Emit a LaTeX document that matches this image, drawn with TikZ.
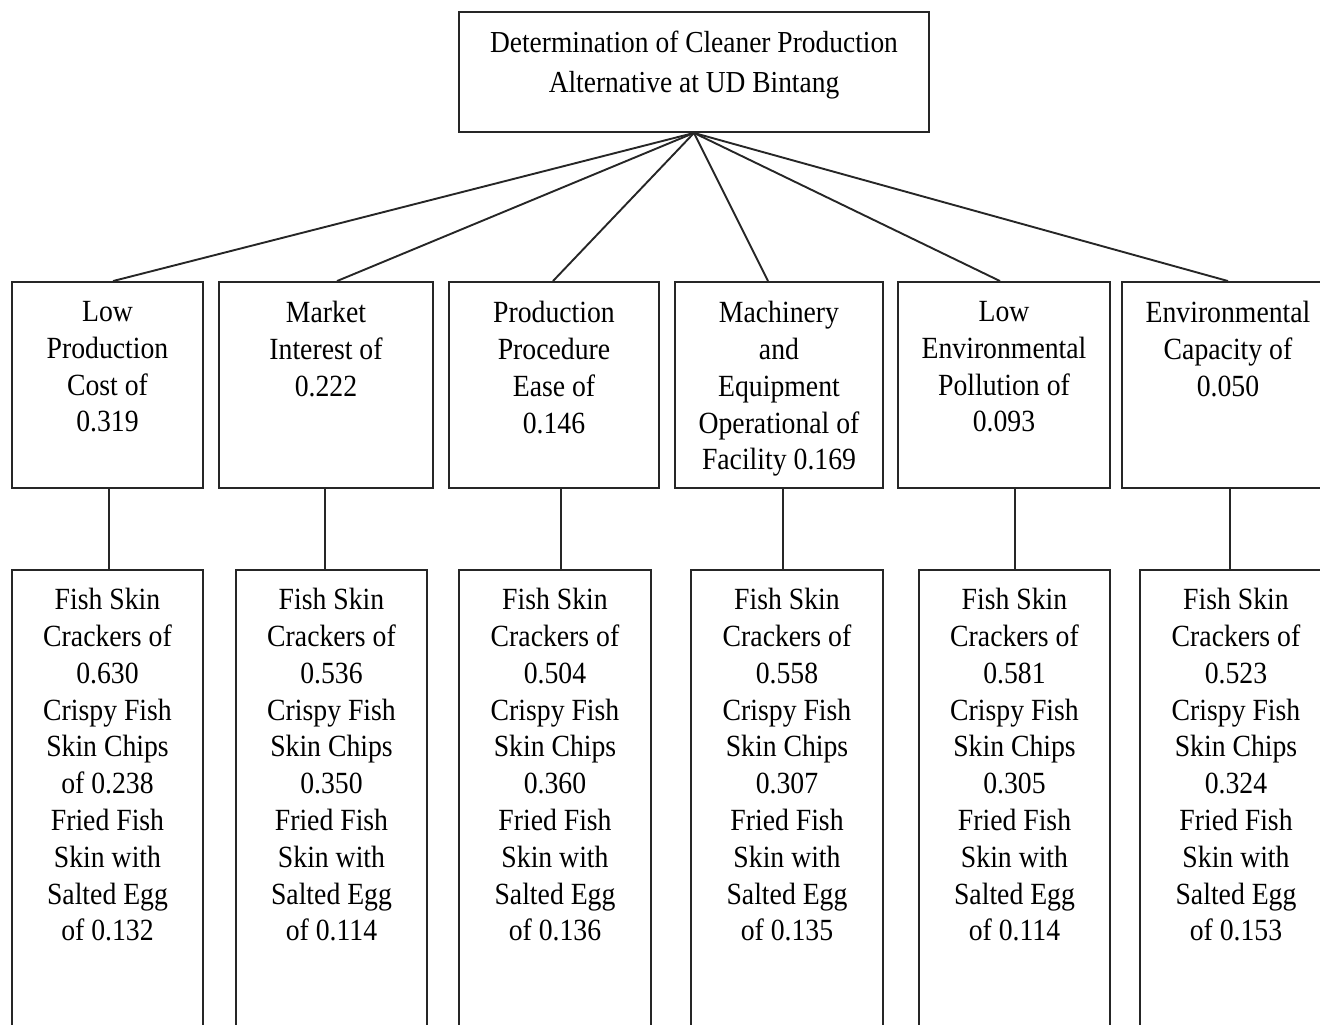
\documentclass[tikz,border=0pt]{standalone}
\usepackage{fontspec}
\setmainfont{Liberation Serif}[FakeStretch=0.9]
\usetikzlibrary{positioning}

\begin{document}
\begin{tikzpicture}[
		% 1 px de la figura = 1 pt
		x=1pt, y=-1pt,
		% Estilos de las cajas
		meta/.style={draw=black!85, line width=1.9pt, rectangle, minimum width=470pt, minimum height=120pt},
		criterio/.style={draw=black!85, line width=1.9pt, rectangle, minimum height=206pt},
		alternativa/.style={draw=black!85, line width=1.9pt, rectangle, minimum height=500pt},
		% Estilos de los textos
		texto/.style={align=center, inner sep=0pt, font={\fontsize{30.8}{36.8}\selectfont}},
		texto_meta/.style={texto, font={\fontsize{30.5}{40}\selectfont}},
		% Estilo de las lineas
		enlace/.style={draw=black!85, line width=1.9pt}
		]
		
		\useasboundingbox (0,0) rectangle (1320,1025);
		\clip (0,0) rectangle (1320,1025);
		
		% --- OBJETIVO ---
		\node[meta] (meta) at (694,72) {};
		\node[texto_meta, below=19.5pt of meta.north] (meta_txt) {Determination of Cleaner Production\\Alternative at UD Bintang};
		
		% --- CRITERIOS ---
		\node[criterio, minimum width=191pt] (crit1) at (107.5,385) {};
		\node[criterio, minimum width=214pt] (crit2) at (326,385) {};
		\node[criterio, minimum width=210pt] (crit3) at (554,385) {};
		\node[criterio, minimum width=208pt] (crit4) at (779,385) {};
		\node[criterio, minimum width=212pt] (crit5) at (1004,385) {};
		\node[criterio, minimum width=212pt] (crit6) at (1228,385) {};
		
		\node[texto, below=20pt of crit1.north] (crit1_txt) {Low\\Production\\Cost of\\0.319};
		\node[texto, below=20pt of crit2.north] (crit2_txt) {Market\\Interest of\\0.222};
		\node[texto, below=20pt of crit3.north] (crit3_txt) {Production\\Procedure\\Ease of\\0.146};
		\node[texto, below=20pt of crit4.north] (crit4_txt) {Machinery\\and\\Equipment\\Operational of\\Facility 0.169};
		\node[texto, below=20pt of crit5.north] (crit5_txt) {Low\\Environmental\\Pollution of\\0.093};
		\node[texto, below=20pt of crit6.north] (crit6_txt) {Environmental\\Capacity of\\0.050};
		
		% --- ALTERNATIVAS ---
		\node[alternativa, minimum width=191pt] (alt1) at (107.5,820) {};
		\node[alternativa, minimum width=191pt] (alt2) at (331.5,820) {};
		\node[alternativa, minimum width=192pt] (alt3) at (555,820) {};
		\node[alternativa, minimum width=192pt] (alt4) at (787,820) {};
		\node[alternativa, minimum width=191pt] (alt5) at (1014.5,820) {};
		\node[alternativa, minimum width=192pt] (alt6) at (1236,820) {};
		
		\node[texto, below=19pt of alt1.north] (alt1_txt) {Fish Skin\\Crackers of\\0.630\\Crispy Fish\\Skin Chips\\of 0.238\\Fried Fish\\Skin with\\Salted Egg\\of 0.132};
		\node[texto, below=19pt of alt2.north] (alt2_txt) {Fish Skin\\Crackers of\\0.536\\Crispy Fish\\Skin Chips\\0.350\\Fried Fish\\Skin with\\Salted Egg\\of 0.114};
		\node[texto, below=19pt of alt3.north] (alt3_txt) {Fish Skin\\Crackers of\\0.504\\Crispy Fish\\Skin Chips\\0.360\\Fried Fish\\Skin with\\Salted Egg\\of 0.136};
		\node[texto, below=19pt of alt4.north] (alt4_txt) {Fish Skin\\Crackers of\\0.558\\Crispy Fish\\Skin Chips\\0.307\\Fried Fish\\Skin with\\Salted Egg\\of 0.135};
		\node[texto, below=19pt of alt5.north] (alt5_txt) {Fish Skin\\Crackers of\\0.581\\Crispy Fish\\Skin Chips\\0.305\\Fried Fish\\Skin with\\Salted Egg\\of 0.114};
		\node[texto, below=19pt of alt6.north] (alt6_txt) {Fish Skin\\Crackers of\\0.523\\Crispy Fish\\Skin Chips\\0.324\\Fried Fish\\Skin with\\Salted Egg\\of 0.153};
		
		% --- LINEAS: objetivo -> criterios ---
		\draw[enlace] (meta.south) -- ([xshift=5.5pt]crit1.north);
		\draw[enlace] (meta.south) -- ([xshift=11pt]crit2.north);
		\draw[enlace] (meta.south) -- ([xshift=-1pt]crit3.north);
		\draw[enlace] (meta.south) -- ([xshift=-11pt]crit4.north);
		\draw[enlace] (meta.south) -- ([xshift=-4pt]crit5.north);
		\draw[enlace] (meta.south) -- (crit6.north);
		
		% --- LINEAS: criterios -> alternativas ---
		\draw[enlace] ([xshift=1.5pt]crit1.south) -- ([xshift=1.5pt]crit1.south |- alt1.north);
		\draw[enlace] ([xshift=-1pt]crit2.south) -- ([xshift=-1pt]crit2.south |- alt2.north);
		\draw[enlace] ([xshift=7pt]crit3.south) -- ([xshift=7pt]crit3.south |- alt3.north);
		\draw[enlace] ([xshift=4pt]crit4.south) -- ([xshift=4pt]crit4.south |- alt4.north);
		\draw[enlace] ([xshift=11pt]crit5.south) -- ([xshift=11pt]crit5.south |- alt5.north);
		\draw[enlace] ([xshift=2pt]crit6.south) -- ([xshift=2pt]crit6.south |- alt6.north);
		
	\end{tikzpicture}
\end{document}
